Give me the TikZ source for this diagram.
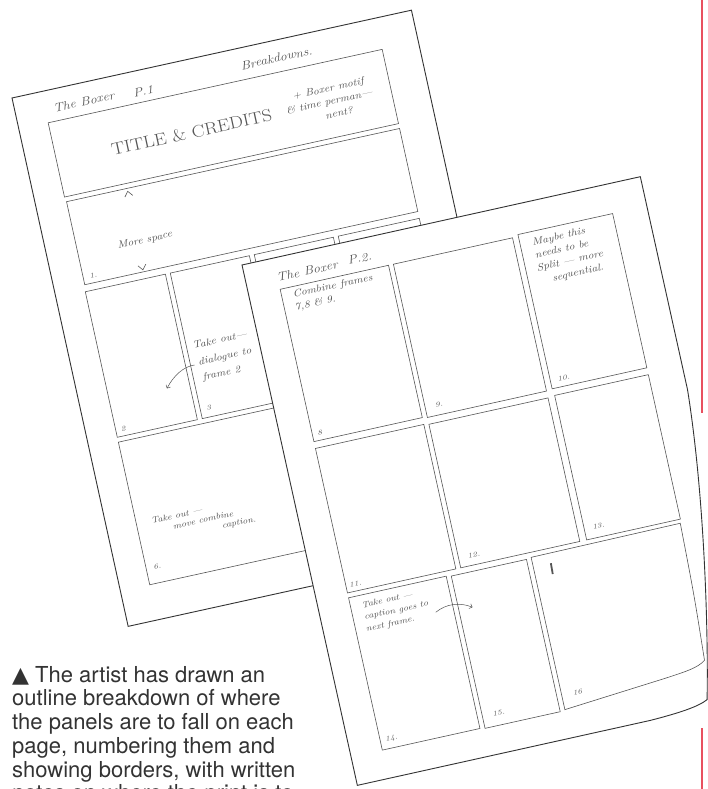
\documentclass[tikz,border=0pt]{standalone}
\usepackage{fontspec}
\newfontfamily\capfont{TeX Gyre Heros}
\newfontfamily\symfont{DejaVu Sans}
\usetikzlibrary{arrows.meta}
\definecolor{ink}{HTML}{333333}
\definecolor{pencil}{HTML}{555555}
\definecolor{margin}{HTML}{E8505F}

\begin{document}
\begin{tikzpicture}[x=1pt,y=-1pt,
 sheet/.style={draw=ink,line width=0.9pt,fill=white},
 panel/.style={draw=pencil,line width=0.6pt},
 hand/.style={font=\fontsize{10}{12}\selectfont\itshape,text=pencil,inner sep=0pt,anchor=base west,xscale=1.15},
 handS/.style={hand,font=\fontsize{8.5}{10}\selectfont\itshape},
 handL/.style={hand,font=\fontsize{12}{14}\selectfont\itshape},
 num/.style={hand,font=\fontsize{7}{8}\selectfont\itshape},
 note/.style={draw=pencil,line width=0.5pt,-{Straight Barb[length=2.5pt]}},
 capline/.style={font=\capfont\fontsize{22}{24}\selectfont,text=ink,inner sep=0pt,anchor=base west}]
\useasboundingbox (0,0) rectangle (708,789);
\clip (0,0) rectangle (708,789);
\fill[white] (0,0) rectangle (708,789);

% page 1
\begin{scope}[shift={(12,98)},rotate=12.4,transform shape]
\draw[sheet] (0,0) rectangle (409,541);
\draw[panel] (30,32) rectangle (372,108) (31,113) rectangle (372,198);
\foreach \a/\b in {30/112,117/198,203/284,289/372} \draw[panel] (\a,205) rectangle (\b,354);
\draw[panel] (30,359) rectangle (372,505);
\node[handL] (b1) at (38,23) {The Boxer};
\node[handL] (p1) at (119,26) {P.1};
\node[handL] (brk) at (230,22) {Breakdowns.};
\node[hand,font=\fontsize{17}{19}\selectfont] (ttl) at (86,78) {TITLE \& CREDITS};
\node[hand] (mot1) at (274,62) {+ Boxer motif};
\node[hand] (mot2) at (265,75) {\& time perman---};
\node[hand] (mot3) at (302,88) {nent?};
\draw[panel] (89,121) -- (93,116) -- (97,121);
\node[hand] (more) at (71,170) {More space};
\draw[panel] (87,191) -- (91,196) -- (95,191);
\node[num] (n1) at (37,193) {1.};
\node[num] (n2) at (35,349) {2};
\node[num] (n3) at (123,347) {3};
\node[hand] (t3a) at (123,284) {Take out---};
\node[hand] (t3b) at (125,301) {dialogue to};
\node[hand] (t3c) at (126,317) {frame 2};
\coordinate (a3s) at (121,300);
\coordinate (a3e) at (89,317);
\draw[note] (a3s) .. controls (110,299) and (98,306) .. (a3e);
\node[handS] (t6a) at (45,446) {Take out ---};
\node[handS] (t6b) at (65,456) {move combine};
\node[handS] (t6c) at (113,466) {caption.};
\node[num] (n6) at (37,491) {6.};
\end{scope}

% page 2
\begin{scope}[shift={(242,265)},rotate=12.5,transform shape]
\draw[sheet] (0,0) -- (408,0) -- (408,218) .. controls (402,320) and (378,450) .. (360,525)
 .. controls (350,530) and (330,532) .. (300,533) -- (0,533) -- cycle;
\draw[panel] (32,32) rectangle (143,188) (148,32) rectangle (270,189) (276,30) rectangle (373,188);
\draw[panel] (32,195) rectangle (143,343) (148,196) rectangle (270,343) (277,195) rectangle (373,343);
\draw[panel] (32,348) rectangle (132,504) (137,349) rectangle (214,505);
\draw[panel] (219,348) -- (372,347) .. controls (370,420) .. (366,486)
 .. controls (358,492) and (345,493) .. (325,495) -- (219,504) -- cycle;
\node[handL] (b2) at (31,24) {The Boxer};
\node[handL] (p2) at (104,23) {P.2.};
\node[hand] (c8a) at (43,43) {Combine frames};
\node[hand] (c8b) at (42,56) {7,8 \& 9.};
\node[num] (n8) at (37,183) {8};
\node[num] (n9) at (158,181) {9.};
\node[num] (n10) at (283,182) {10.};
\node[hand] (m10a) at (288,44) {Maybe this};
\node[hand] (m10b) at (288,57) {needs to be};
\node[hand] (m10c) at (287,70) {Split --- more};
\node[hand] (m10d) at (300,83) {sequential.};
\node[num] (n11) at (35,338) {11.};
\node[num] (n12) at (157,336) {12.};
\node[num] (n13) at (285,334) {13.};
\node[handS] (t14a) at (43,361) {Take out ---};
\node[handS] (t14b) at (43,373) {caption goes to};
\node[handS] (t14c) at (42,385) {next frame.};
\coordinate (a14s) at (114,381);
\coordinate (a14e) at (151,384);
\draw[note] (a14s) .. controls (126,375) and (139,376) .. (a14e);
\draw[pencil,line width=1.8pt] (237,358) -- (236.5,369);
\node[num] (n14) at (37,496) {14.};
\node[num] (n15) at (147,495) {15.};
\node[num] (n16) at (230,492) {16};
\end{scope}

\draw[margin,line width=1.6pt] (702,0) -- (702,413) (702,728) -- (702,789);
\foreach \t [count=\i] in {{{\symfont ▲} The artist has drawn an},{outline breakdown of where},
 {the panels are to fall on each},{page, numbering them and},{showing borders, with written},
 {notes on where the print is to}}
 \node[capline] (cap\i) at (12,{682+23.75*(\i-1)}) {\t};
\end{tikzpicture}
\end{document}
